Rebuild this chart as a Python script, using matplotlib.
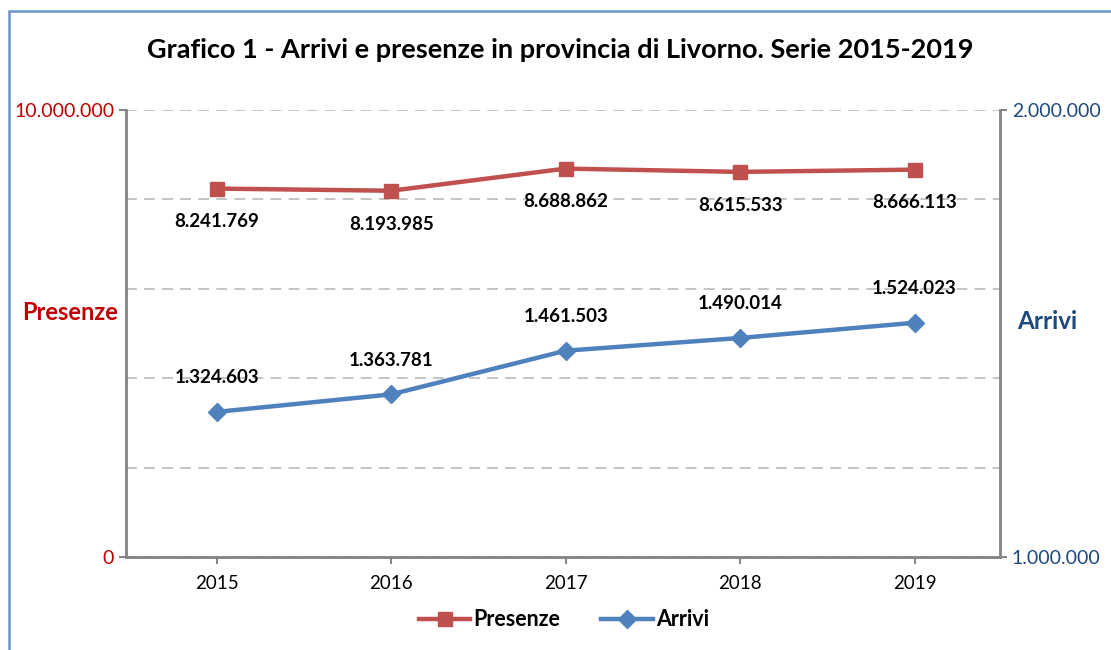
import matplotlib
matplotlib.use("Agg")
import matplotlib.pyplot as plt
from matplotlib.patches import Rectangle
from matplotlib.ticker import MultipleLocator
import numpy as np

plt.rcParams['font.family'] = ['Lato', 'DejaVu Sans']

anni = ['2015', '2016', '2017', '2018', '2019']
presenze = [8241769, 8193985, 8688862, 8615533, 8666113]
arrivi = [1324603, 1363781, 1461503, 1490014, 1524023]

RED = '#C0504D'
BLUE = '#4F81BD'
GRID = '#BFBFBF'
SPINE = '#868686'


def fmt(v):
    return f"{v:,}".replace(",", ".")


fig = plt.figure(figsize=(11.11, 6.5), dpi=100)
ax = fig.add_axes([126 / 1111, 93 / 650, 874 / 1111, 447 / 650])
ax2 = ax.twinx()

x = np.arange(len(anni))

# Presenze on left axis
ax.plot(x, presenze, color=RED, lw=3.2, marker='s', ms=10, zorder=3, label='Presenze')
for xi, v in zip(x, presenze):
    ax.annotate(fmt(v), (xi, v), xytext=(0, -24), textcoords='offset points',
                ha='center', va='center', fontsize=13.5, fontweight='bold', color='black')

# Arrivi on right axis
ax2.plot(x, arrivi, color=BLUE, lw=3.2, marker='D', ms=9, zorder=3, label='Arrivi')
for xi, v in zip(x, arrivi):
    ax2.annotate(fmt(v), (xi, v), xytext=(0, 24.5), textcoords='offset points',
                 ha='center', va='center', fontsize=13.5, fontweight='bold', color='black')

ax.set_xlim(-0.52, 4.49)
ax.set_ylim(0, 10000000)
ax2.set_ylim(1000000, 2000000)

ax.set_xticks(x)
ax.set_xticklabels(anni, fontsize=13.5)
ax.set_yticks([0, 10000000])
ax.set_yticklabels(['0', '10.000.000'], fontsize=14, color='#C00000')
ax2.set_yticks([1000000, 2000000])
ax2.set_yticklabels(['1.000.000', '2.000.000'], fontsize=14, color='#1F497D')
ax.tick_params(axis='x', pad=8)

# dashed gridlines every 2.000.000
ax.yaxis.set_minor_locator(MultipleLocator(2000000))
ax.grid(axis='y', which='both', color=GRID, ls=(0, (6, 4)), lw=1.3)
ax.tick_params(axis='y', which='minor', length=0)
ax.tick_params(axis='both', which='major', length=5, color=SPINE, width=1.5)
ax2.tick_params(axis='y', length=5, color=SPINE, width=1.5)
ax.set_axisbelow(True)

for a in (ax, ax2):
    a.spines['top'].set_visible(False)
    for s in ('left', 'right', 'bottom'):
        a.spines[s].set_color(SPINE)
        a.spines[s].set_linewidth(1.8)

fig.text(560 / 1111, 1 - 50 / 650, 'Grafico 1 - Arrivi e presenze in provincia di Livorno. Serie 2015-2019',
         ha='center', va='center', fontsize=19.5, fontweight='bold')
fig.text(70 / 1111, 1 - 312 / 650, 'Presenze', ha='center', va='center',
         fontsize=17, fontweight='bold', color='#C00000')
fig.text(1047 / 1111, 1 - 322 / 650, 'Arrivi', ha='center', va='center',
         fontsize=17.5, fontweight='bold', color='#1F497D')

h1, l1 = ax.get_legend_handles_labels()
h2, l2 = ax2.get_legend_handles_labels()
leg = fig.legend(h1 + h2, l1 + l2, loc='center', bbox_to_anchor=(564 / 1111, 1 - 620 / 650),
                 ncol=2, frameon=False, handlelength=2.4, columnspacing=1.9, handletextpad=0.15,
                 prop={'weight': 'bold', 'size': 15.5})

fig.patches.append(Rectangle((9 / 1111, -0.1), 1.2, 1.1 - 11 / 650, transform=fig.transFigure,
                             fill=False, edgecolor='#6C93C8', lw=1.8))

fig.savefig('out.png', dpi=100)
